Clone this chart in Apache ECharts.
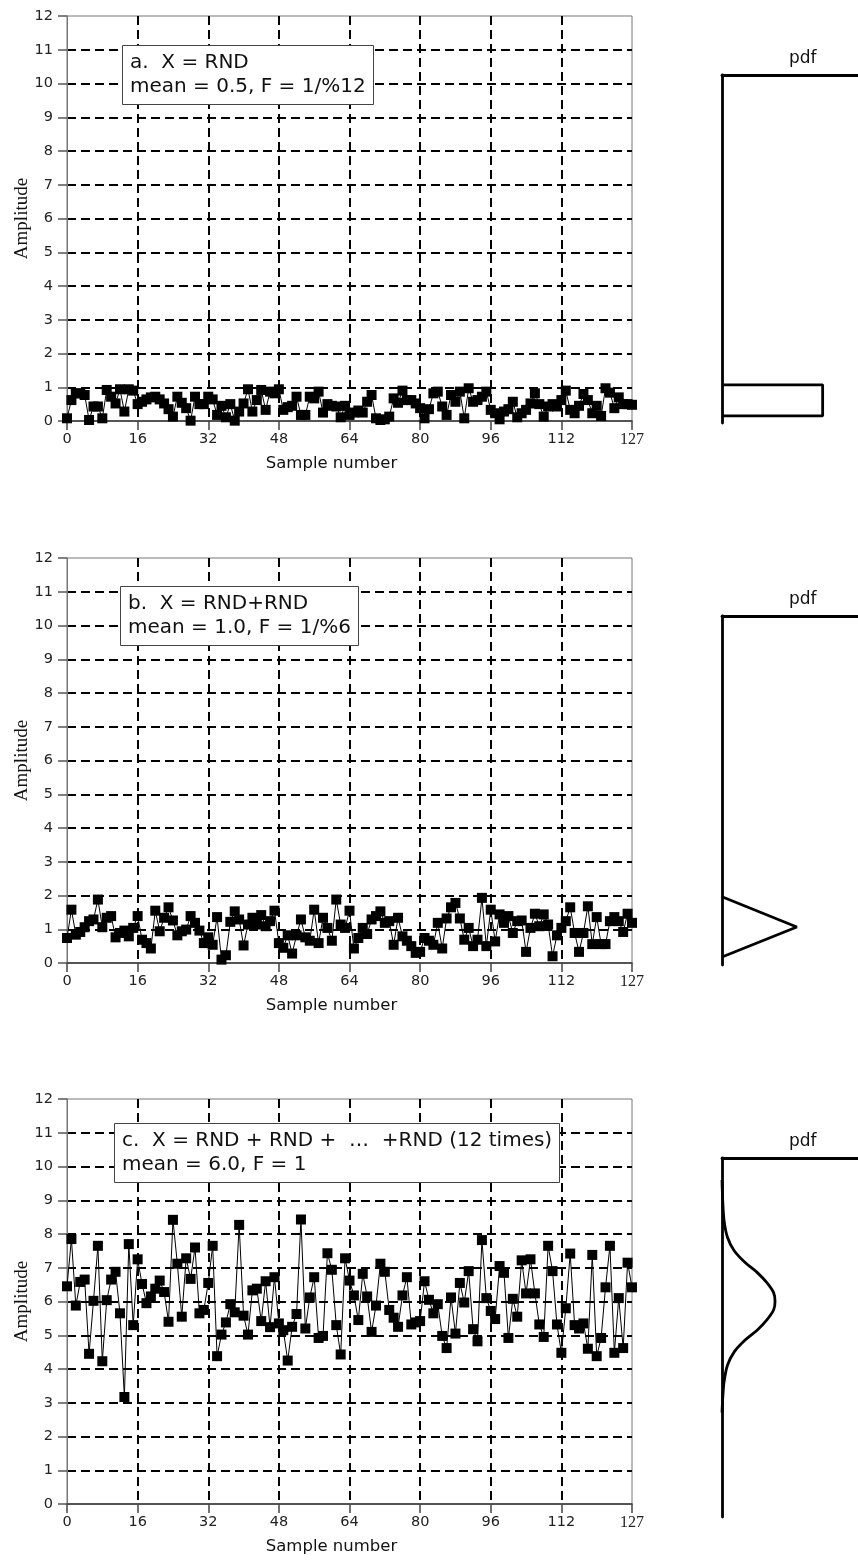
<!DOCTYPE html>
<html><head><meta charset="utf-8">
<script src="https://cdn.jsdelivr.net/npm/echarts@6/dist/echarts.min.js"></script>
<style>html,body{margin:0;padding:0;background:#fff}#c{width:858px;height:1565px}</style>
</head><body><div id="c"></div>
<script>
// ---- data ----
const yTickMax = 12;
const xMax = 128;              // right edge of the sample axis (labelled "127")
const xLastLabel = '127';
const labelsBox = [
  'a.  X = RND\nmean = 0.5, F = 1/%12',
  'b.  X = RND+RND\nmean = 1.0, F = 1/%6',
  'c.  X = RND + RND +  \u2026  +RND (12 times)\nmean = 6.0, F = 1'
];
const seriesA = [0.08,0.62,0.82,0.82,0.77,0.03,0.43,0.43,0.08,0.92,0.72,0.52,0.94,0.28,0.94,0.9,0.5,0.57,0.64,0.7,0.72,0.64,0.52,0.35,0.13,0.72,0.54,0.38,0.01,0.72,0.5,0.5,0.72,0.64,0.18,0.45,0.11,0.5,0.01,0.28,0.52,0.94,0.28,0.62,0.92,0.33,0.87,0.82,0.94,0.33,0.41,0.45,0.72,0.18,0.18,0.72,0.67,0.87,0.25,0.5,0.45,0.43,0.11,0.45,
  0.18,0.25,0.31,0.25,0.57,0.77,0.08,0.03,0.05,0.13,0.67,0.54,0.9,0.62,0.62,0.52,0.38,0.08,0.35,0.82,0.87,0.43,0.18,0.77,0.57,0.87,0.08,0.97,0.57,0.62,0.72,0.87,0.33,0.23,0.05,0.28,0.35,0.57,0.11,0.23,0.33,0.52,0.82,0.5,0.13,0.43,0.5,0.43,0.62,0.9,0.33,0.23,0.45,0.8,0.62,0.23,0.45,0.15,0.97,0.84,0.38,0.7,0.5,0.5,0.48];
const seriesB = [0.74,1.58,0.84,0.92,1.06,1.24,1.29,1.88,1.06,1.34,1.39,0.76,0.89,0.96,0.79,1.04,1.39,0.69,0.59,0.43,1.55,0.94,1.34,1.65,1.26,0.82,0.94,0.99,1.39,1.19,0.96,0.59,
  0.76,0.54,1.36,0.10,0.23,1.22,1.53,1.29,0.52,1.14,1.34,1.14,1.42,1.09,1.24,1.55,0.59,0.45,0.82,0.28,0.82,1.29,0.76,0.66,1.58,0.59,1.34,1.04,0.66,1.88,1.14,1.04,
  1.55,0.43,0.74,1.04,0.86,1.29,1.39,1.53,1.19,1.24,0.54,1.34,0.79,0.66,0.5,0.3,0.33,0.74,0.66,0.54,1.19,0.43,1.32,1.65,1.78,1.32,0.69,1.04,0.5,0.69,1.93,0.5,1.58,0.64,1.44,1.19,1.39,0.89,1.24,1.26,0.33,1.04,1.46,1.09,1.44,1.14,0.2,0.82,1.04,1.24,1.65,0.89,0.33,0.89,1.68,0.56,1.36,0.56,0.56,1.24,1.36,1.24,0.92,1.46,1.19];
const seriesC = [6.45,7.85,5.88,6.58,6.65,4.45,6.02,7.65,4.23,6.04,6.65,6.88,5.65,3.17,7.7,5.3,7.25,6.52,5.95,6.15,6.38,6.62,6.28,5.4,8.42,7.12,5.55,7.28,6.67,7.6,5.65,5.75,6.55,7.65,4.38,5.02,5.38,5.92,5.68,8.27,5.58,5.02,6.33,6.38,5.42,6.6,5.24,6.72,5.35,5.15,4.25,5.25,5.63,8.43,5.2,6.12,6.72,4.92,4.98,7.43,6.94,5.3,4.43,7.28,6.62,6.18,5.45,6.82,6.15,5.1,5.88,7.12,6.88,5.75,5.52,5.25,6.18,6.72,5.32,5.38,5.42,6.6,6.05,5.65,5.92,4.98,4.62,6.12,5.05,6.55,5.97,6.9,5.18,4.82,7.82,6.1,5.72,5.48,7.05,6.85,4.92,6.08,5.55,7.22,6.24,7.25,6.24,5.32,4.95,7.65,6.9,5.32,4.48,5.8,7.42,5.3,5.2,5.35,4.6,7.38,4.38,4.92,6.42,7.65,4.48,6.1,4.62,7.15,6.42];
// pdf sketches: [pdf value, amplitude]
const pdfAx = [0, 0.74, 0.74, 0];
const pdfAy = [1.07, 1.07, 0.15, 0.15];
const pdfBx = [0, 0.55, 0];
const pdfBy = [1.94, 1.04, 0.15];
const pdfCx = [0, 0.005, 0.015, 0.04, 0.09, 0.17, 0.26, 0.33, 0.38, 0.39, 0.38, 0.33, 0.26, 0.17, 0.09, 0.04, 0.015, 0.005, 0];
const pdfCy = [9.6, 9.0, 8.4, 7.9, 7.5, 7.15, 6.85, 6.55, 6.25, 6.0, 5.75, 5.45, 5.15, 4.85, 4.5, 4.1, 3.6, 3.1, 2.7];

// ---- layout ----
const panelTop = [16, 558, 1099];
const panelH = 405;
const plotLeft = 67, plotW = 565;
const pdfGrid = [
  {top: 75, h: 348, min: -0.06, max: 10.25},
  {top: 616, h: 349, min: -0.09, max: 10.3},
  {top: 1158, h: 359, min: -0.4, max: 10.25}
];
const sans = '"DejaVu Sans", sans-serif';
const serif = '"Liberation Serif", "DejaVu Serif", serif';

const grids = [], xAxes = [], yAxes = [], series = [], titles = [];
const mains = [seriesA, seriesB, seriesC];
mains.forEach((vals, k) => {
  grids.push({left: plotLeft, top: panelTop[k], width: plotW, height: panelH, show: true,
    containLabel: false, outerBoundsMode: 'none',
    borderColor: '#777', borderWidth: 1, backgroundColor: 'transparent'});
  xAxes.push({type: 'value', gridIndex: k, min: 0, max: xMax, interval: 16,
    name: 'Sample number', nameLocation: 'middle', nameGap: 34, nameMoveOverlap: false,
    nameTextStyle: {fontFamily: sans, fontSize: 16.5, color: '#111', padding: [0, 36, 0, 0]},
    axisLine: {show: true, onZero: false, lineStyle: {color: '#333', width: 1.5}},
    axisTick: {show: true, length: 9, lineStyle: {color: '#444', width: 1.5}},
    axisLabel: {fontFamily: sans, fontSize: 14.5, color: '#222', margin: 11,
      formatter: v => v === xMax ? '{s|' + xLastLabel + '}' : String(v),
      rich: {s: {fontFamily: serif, fontSize: 16, color: '#222'}}},
    splitLine: {show: true, showMinLine: false, showMaxLine: false,
      lineStyle: {color: '#000', width: 2, type: [9, 5]}}
  });
  yAxes.push({type: 'value', gridIndex: k, min: 0, max: yTickMax, interval: 1,
    name: 'Amplitude', nameLocation: 'middle', nameGap: 35, nameMoveOverlap: false,
    nameTextStyle: {fontFamily: serif, fontSize: 19, color: '#111'},
    axisLine: {show: true, lineStyle: {color: '#777', width: 1}},
    axisTick: {show: true, length: 9, lineStyle: {color: '#555', width: 1.5}},
    axisLabel: {fontFamily: sans, fontSize: 14.5, color: '#222', margin: 14},
    splitLine: {show: true, showMinLine: false, showMaxLine: false,
      lineStyle: {color: '#000', width: 2, type: [9, 5]}}
  });
  series.push({type: 'line', xAxisIndex: k, yAxisIndex: k,
    data: vals.map((v, i) => [i, v]),
    symbol: 'rect', symbolSize: 10, showSymbol: true,
    lineStyle: {color: '#000', width: 1}, itemStyle: {color: '#000'},
    animation: false, z: 5});
});
const boxPos = [[122, 45], [120, 586], [114, 1123]];
labelsBox.forEach((t, k) => {
  titles.push({text: t, left: boxPos[k][0], top: boxPos[k][1],
    padding: [6, 8, 6, 8], borderColor: '#444', borderWidth: 1, backgroundColor: '#fff',
    textStyle: {fontFamily: sans, fontSize: 20, fontWeight: 'normal', color: '#111', lineHeight: 24}, z: 10});
});
const pdfX = [pdfAx, pdfBx, pdfCx], pdfY = [pdfAy, pdfBy, pdfCy];
pdfGrid.forEach((g, j) => {
  const gi = 3 + j;
  grids.push({left: 722, right: 0, top: g.top, height: g.h, show: false,
    containLabel: false, outerBoundsMode: 'none'});
  xAxes.push({type: 'value', gridIndex: gi, min: 0, max: 1, position: 'top',
    axisLine: {show: true, onZero: false, lineStyle: {color: '#000', width: 2.8}},
    axisTick: {show: false}, axisLabel: {show: false}, splitLine: {show: false}});
  yAxes.push({type: 'value', gridIndex: gi, min: g.min, max: g.max,
    axisLine: {show: true, onZero: false, lineStyle: {color: '#000', width: 2.8}},
    axisTick: {show: false}, axisLabel: {show: false}, splitLine: {show: false}});
  series.push({type: 'line', xAxisIndex: gi, yAxisIndex: gi,
    data: pdfX[j].map((x, i) => [x, pdfY[j][i]]),
    showSymbol: false, symbol: 'none', smooth: j === 2 ? 0.3 : false,
    lineStyle: {color: '#000', width: 2.8}, animation: false});
  titles.push({text: 'pdf', left: 784, top: g.top - 30,
    textStyle: {fontFamily: sans, fontSize: 17, fontWeight: 'normal', color: '#111'}});
});

const chart = echarts.init(document.getElementById('c'), null, {renderer: 'canvas'});
chart.setOption({animation: false, backgroundColor: '#fff', title: titles,
  grid: grids, xAxis: xAxes, yAxis: yAxes, series: series});
</script></body></html>
